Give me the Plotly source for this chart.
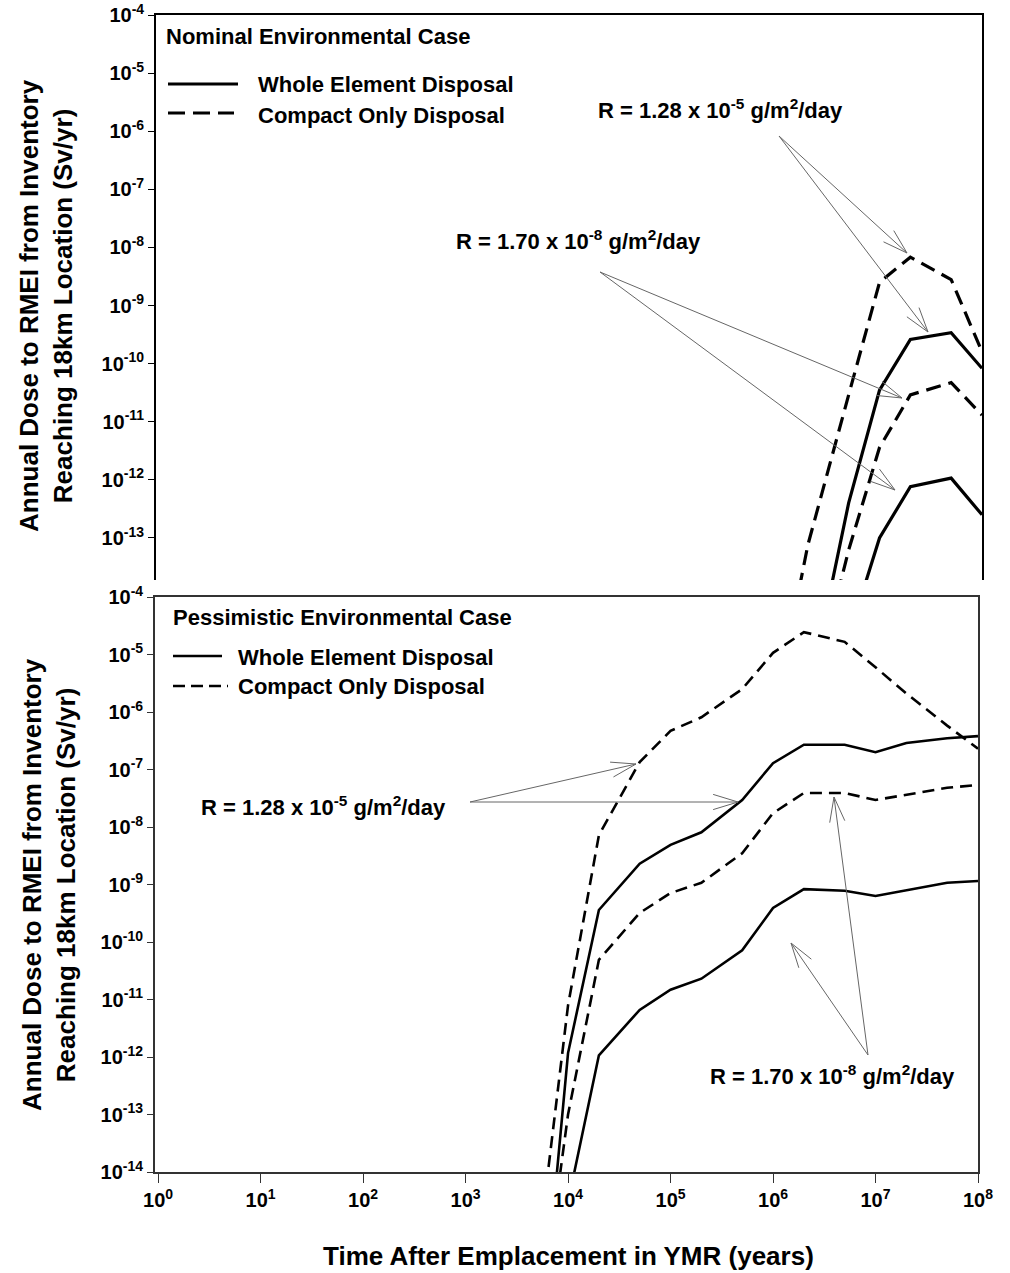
import math
import plotly.graph_objects as go

W, H = 1010, 1273
FONT = "Liberation Sans"

# ---------------- data ----------------
# Top panel: Nominal Environmental Case (years, Sv/yr)
nom_t = [1e6, 2e6, 5e6, 1e7, 2e7, 5e7, 1e8]
nom_compact_high = [1.6e-16, 7.6e-14, 2.9e-11, 2.5e-9, 6.8e-9, 2.8e-9, 1.6e-10]   # R = 1.28e-5
nom_whole_high = [1e-19, 1.7e-16, 4.0e-13, 3.5e-11, 2.6e-10, 3.4e-10, 8.3e-11]    # R = 1.28e-5
nom_compact_low = [1e-19, 1e-16, 6.2e-14, 3.6e-12, 2.9e-11, 4.7e-11, 1.3e-11]     # R = 1.70e-8
nom_whole_low = [1e-20, 1e-18, 2.0e-15, 1.0e-13, 7.6e-13, 1.07e-12, 2.5e-13]      # R = 1.70e-8

# Bottom panel: Pessimistic Environmental Case
pes_t = [5e3, 1e4, 2e4, 5e4, 1e5, 2e5, 5e5, 1e6, 2e6, 5e6, 1e7, 2e7, 5e7, 1e8]
pes_compact_high = [2.8e-16, 7.9e-12, 7.2e-9, 1.35e-7, 4.7e-7, 8.1e-7, 2.5e-6, 1.07e-5,
                    2.45e-5, 1.66e-5, 6.0e-6, 2.1e-6, 5.8e-7, 2.3e-7]
pes_whole_high = [2e-18, 1.17e-12, 3.6e-10, 2.3e-9, 4.9e-9, 8.1e-9, 2.95e-8, 1.29e-7,
                  2.7e-7, 2.7e-7, 2.0e-7, 2.9e-7, 3.5e-7, 3.8e-7]
pes_compact_low = [1e-17, 1e-13, 4.9e-11, 3.2e-10, 7.1e-10, 1.07e-9, 3.5e-9, 1.74e-8,
                   3.9e-8, 3.9e-8, 2.95e-8, 3.6e-8, 4.8e-8, 5.4e-8]
pes_whole_low = [1e-19, 3.0e-15, 1.07e-12, 6.6e-12, 1.48e-11, 2.3e-11, 7.2e-11, 3.9e-10,
                 8.3e-10, 7.8e-10, 6.3e-10, 7.9e-10, 1.07e-9, 1.15e-9]

x_tickvals = [1e0, 1e1, 1e2, 1e3, 1e4, 1e5, 1e6, 1e7, 1e8]
x_ticktext = ["10<sup>%d</sup>" % i for i in range(0, 9)]
top_y_tickvals = [10.0 ** -i for i in range(4, 14)]
top_y_ticktext = ["10<sup>-%d</sup>" % i for i in range(4, 14)]
bot_y_tickvals = [10.0 ** -i for i in range(4, 15)]
bot_y_ticktext = ["10<sup>-%d</sup>" % i for i in range(4, 15)]

label_high = "R = 1.28 x 10<sup>-5</sup> g/m<sup>2</sup>/day"
label_low = "R = 1.70 x 10<sup>-8</sup> g/m<sup>2</sup>/day"
ytitle = "Annual Dose to RMEI from Inventory<br>Reaching 18km Location (Sv/yr)"
xtitle = "Time After Emplacement in YMR (years)"


def px(x):
    return x / W


def py(y):
    return 1 - y / H


fig = go.Figure()

TOP_DASH = "15px,8px"
BOT_DASH = "12px,7px"

for ys, dash in [(nom_compact_high, TOP_DASH), (nom_whole_high, "solid"),
                 (nom_compact_low, TOP_DASH), (nom_whole_low, "solid")]:
    fig.add_trace(go.Scatter(x=nom_t, y=ys, mode="lines", xaxis="x", yaxis="y",
                             line=dict(color="black", width=3.2, dash=dash),
                             showlegend=False, hoverinfo="skip"))

for ys, dash in [(pes_compact_high, BOT_DASH), (pes_whole_high, "solid"),
                 (pes_compact_low, BOT_DASH), (pes_whole_low, "solid")]:
    fig.add_trace(go.Scatter(x=pes_t, y=ys, mode="lines", xaxis="x2", yaxis="y2",
                             line=dict(color="black", width=2.6, dash=dash),
                             showlegend=False, hoverinfo="skip"))

tickfont = dict(family=FONT, size=20, color="black", weight="bold")

layout = dict(
    width=W, height=H,
    margin=dict(l=0, r=0, t=0, b=0, pad=0, autoexpand=False),
    paper_bgcolor="white", plot_bgcolor="white",
    showlegend=False,
    xaxis=dict(type="log", domain=[px(156), px(982)], range=[-0.06, 8], automargin=False,
               anchor="y", side="top", showline=True, linecolor="black", linewidth=1.8,
               ticks="", showticklabels=False, showgrid=False, zeroline=False),
    yaxis=dict(type="log", domain=[py(580), py(15)], range=[-13.724, -4], automargin=False,
               anchor="x", showline=True, mirror=True, linecolor="black", linewidth=1.8,
               ticks="outside", ticklen=6, tickwidth=1.3, tickcolor="black",
               tickmode="array", tickvals=top_y_tickvals, ticktext=top_y_ticktext,
               tickfont=tickfont, showgrid=False, zeroline=False),
    xaxis2=dict(type="log", domain=[px(155), px(978)], range=[-0.03, 8], automargin=False,
                anchor="y2", showline=True, mirror=True, linecolor="#333333", linewidth=1.8,
                ticks="outside", ticklen=9, tickwidth=1.3, tickcolor="#333333",
                tickmode="array", tickvals=x_tickvals, ticktext=x_ticktext,
                tickfont=tickfont, showgrid=False, zeroline=False),
    yaxis2=dict(type="log", domain=[py(1172), py(597)], range=[-14, -4], automargin=False,
                anchor="x2", showline=True, mirror=True, linecolor="#333333", linewidth=1.8,
                ticks="outside", ticklen=6, tickwidth=1.3, tickcolor="#333333",
                tickmode="array", tickvals=bot_y_tickvals, ticktext=bot_y_ticktext,
                tickfont=tickfont, showgrid=False, zeroline=False),
)
fig.update_layout(**layout)

annotations = []
shapes = []


def text(x, y, s, size=22, xanchor="center", angle=0):
    annotations.append(dict(x=px(x), y=py(y), xref="paper", yref="paper", text=s,
                            showarrow=False, xanchor=xanchor, yanchor="middle",
                            textangle=angle,
                            font=dict(family=FONT, size=size, color="black", weight="bold")))


def line(x0, y0, x1, y1, color="black", width=1, dash="solid"):
    shapes.append(dict(type="line", xref="paper", yref="paper",
                       x0=px(x0), y0=py(y0), x1=px(x1), y1=py(y1),
                       line=dict(color=color, width=width, dash=dash)))


def arrow(tx, ty, hx, hy, L=26, ang=17):
    col = "#666666"
    line(tx, ty, hx, hy, color=col, width=1)
    d = math.atan2(ty - hy, tx - hx)
    for s in (1, -1):
        a = d + s * math.radians(ang)
        line(hx, hy, hx + L * math.cos(a), hy + L * math.sin(a), color=col, width=1)


# Axis titles
text(46, 306, ytitle, size=26, angle=-90)
text(49, 885, ytitle, size=26, angle=-90)
text(568, 1256, xtitle, size=26)

# Top panel legend
text(164, 37, "Nominal Environmental Case", size=22, xanchor="left")
line(168, 84, 238, 84, width=3.2)
line(168, 113, 234, 113, width=3.2, dash="17px,8px")
text(256, 85, "Whole Element Disposal", size=22, xanchor="left")
text(256, 115, "Compact Only Disposal", size=22, xanchor="left")

# Bottom panel legend
text(171, 617, "Pessimistic Environmental Case", size=22, xanchor="left")
line(173, 656, 222, 656, width=2.6)
line(173, 686, 228, 686, width=2.6, dash="12px,6px")
text(236, 657, "Whole Element Disposal", size=22, xanchor="left")
text(236, 686, "Compact Only Disposal", size=22, xanchor="left")

# Top panel annotations
text(720, 109, label_high, size=22)
arrow(779, 136, 907, 253)
arrow(779, 136, 928, 332)
text(578, 240, label_low, size=22)
arrow(600, 272, 902, 398)
arrow(600, 272, 895, 490)

# Bottom panel annotations
text(323, 806, label_high, size=22)
arrow(470, 802, 636, 764)
arrow(470, 802, 738, 802)
text(832, 1075, label_low, size=22)
arrow(868, 1055, 791, 943)
arrow(868, 1055, 834, 797)

fig.update_layout(annotations=annotations, shapes=shapes)
fig.write_html("out.html", config={"displayModeBar": False},
               post_script="document.body.style.margin='0px';")
